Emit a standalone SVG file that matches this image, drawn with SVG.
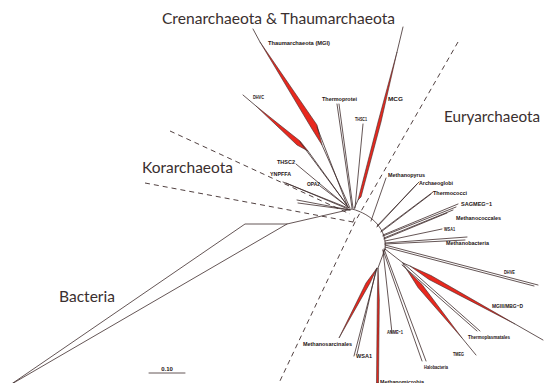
<svg xmlns="http://www.w3.org/2000/svg" width="544" height="383" viewBox="0 0 544 383">
<style>
.br{fill:none;stroke:#3d2b2b;stroke-width:0.8;stroke-linecap:round}
.red{fill:#e8281e;stroke:#3d2b2b;stroke-width:0.6;stroke-linejoin:round}
.dash{fill:none;stroke:#3d2b2b;stroke-width:0.9;stroke-dasharray:5 4}
.big{font-family:Lato,"Liberation Sans",sans-serif;font-size:16px;fill:#3a2f2f}
.sm{font-family:"Liberation Sans",Arial,sans-serif;font-size:6px;font-weight:bold;fill:#1e1414}
</style>
<rect width="544" height="383" fill="#ffffff"/>
<g id="connectors">
<g id="dashed-boundaries">
<polyline class="dash" points="458,42 356,220 279,383"/>
<line class="dash" x1="170" y1="131" x2="350" y2="214"/>
<line class="dash" x1="145" y1="183" x2="353" y2="222"/>
<line class="br" x1="353" y1="222" x2="354.5" y2="218"/>
</g>
<g id="backbone">
<path class="br" d="M352,209 C372,214 388,230 385,250"/>
<line class="br" x1="385" y1="249" x2="378" y2="268"/>
<line class="br" x1="385" y1="249" x2="403" y2="263"/>
</g>
<g id="bacteria-branch">
<polyline class="br" points="352,209 287,224 245,224 10,385 287,224"/>
</g>
</g>
<g id="cren-thaum">
<g id="Thaumarchaeota">
<line class="br" x1="253" y1="29" x2="260" y2="42"/>
<polygon class="red" points="260,42 317,125 322,145 312,129"/>
<line class="br" x1="322" y1="145" x2="350" y2="208"/>
<line class="br" x1="317" y1="127" x2="347" y2="205"/>
</g>
<g id="DHVC">
<line class="br" x1="243" y1="95" x2="256" y2="106"/>
<polygon class="red" points="256,106 300,141 308,151 297,145"/>
<line class="br" x1="308" y1="151" x2="349" y2="208"/>
<line class="br" x1="300" y1="142" x2="347" y2="205"/>
</g>
<g id="Thermoprotei">
<line class="br" x1="337" y1="104" x2="352" y2="208"/>
<line class="br" x1="339" y1="104" x2="353" y2="208"/>
</g>
<g id="THSC1">
<line class="br" x1="363" y1="124" x2="355" y2="208"/>
</g>
<g id="MCG">
<line class="br" x1="403" y1="27" x2="397" y2="52"/>
<polygon class="red" points="397,52 381,122 361,197 358,200 378,122"/>
<line class="br" x1="358" y1="200" x2="354" y2="209"/>
</g>
<g id="THSC2">
<line class="br" x1="296" y1="164" x2="349" y2="208"/>
</g>
<g id="YNPFFA">
<line class="br" x1="283" y1="182" x2="348" y2="208"/>
<line class="br" x1="286" y1="183" x2="348" y2="209"/>
</g>
<g id="OPA2">
<line class="br" x1="320" y1="186" x2="348" y2="207"/>
</g>
<g id="Korarchaeota-clade">
<line class="br" x1="297" y1="200" x2="350" y2="210"/>
<line class="br" x1="298" y1="203" x2="350" y2="210"/>
</g>
</g>
<g id="eury">
<g id="Methanopyrus"><line class="br" x1="386" y1="178" x2="371" y2="221"/></g>
<g id="Archaeoglobi">
<line class="br" x1="419" y1="182" x2="377" y2="226"/>
<line class="br" x1="417" y1="184" x2="377" y2="227"/>
</g>
<g id="Thermococci">
<line class="br" x1="433" y1="192" x2="381" y2="231"/>
<line class="br" x1="431" y1="194" x2="381" y2="232"/>
</g>
<g id="SAGMEG-1">
<line class="br" x1="458" y1="204" x2="383" y2="235"/>
<line class="br" x1="456" y1="207" x2="383" y2="236"/>
</g>
<g id="Methanococcales">
<line class="br" x1="453" y1="210" x2="384" y2="238"/>
<line class="br" x1="447" y1="213" x2="384" y2="239"/>
</g>
<g id="WSA1-a"><line class="br" x1="442" y1="229" x2="385" y2="241"/></g>
<g id="Methanobacteria">
<line class="br" x1="467" y1="237" x2="385" y2="243"/>
<line class="br" x1="465" y1="240" x2="385" y2="244"/>
</g>
<g id="DHVE">
<line class="br" x1="385" y1="245" x2="538" y2="285"/>
<line class="br" x1="385" y1="247" x2="534" y2="286"/>
</g>
<g id="MGIII-MBG-D">
<line class="br" x1="403" y1="263" x2="410" y2="266"/>
<polygon class="red" points="410,266 431,275.5 515,324 429,279.5"/>
<line class="br" x1="515" y1="324" x2="543" y2="340"/>
</g>
<g id="Thermoplasmatales">
<line class="br" x1="403" y1="263" x2="480" y2="331"/>
<line class="br" x1="402" y1="265" x2="477" y2="331"/>
</g>
<g id="TMEG">
<line class="br" x1="403" y1="264" x2="407" y2="270"/>
<polygon class="red" points="407,270 422,284.5 462,338 418,287.5"/>
<line class="br" x1="462" y1="338" x2="476" y2="355"/>
</g>
<g id="Halobacteria">
<line class="br" x1="384" y1="249" x2="426" y2="361"/>
<line class="br" x1="383" y1="250" x2="422" y2="361"/>
</g>
<g id="ANME-1"><line class="br" x1="383" y1="250" x2="392" y2="333"/></g>
<g id="Methanosarcinales">
<polygon class="red" points="377,268 370,283 339,338 366,283"/>
</g>
<g id="WSA1-b">
<line class="br" x1="377" y1="268" x2="354" y2="356"/>
<line class="br" x1="376" y1="270" x2="357" y2="354"/>
</g>
<g id="Methanomicrobia">
<polygon class="red" points="378,268 379.3,300 378.5,383 376.5,383 377.3,300"/>
</g>
</g>
<g id="scale">
<line class="br" x1="149" y1="373" x2="185" y2="373"/>
<text class="sm" x="167" y="371" text-anchor="middle">0.10</text>
</g>
<g id="labels">
<text class="big" x="162" y="24" textLength="233" lengthAdjust="spacingAndGlyphs">Crenarchaeota &amp; Thaumarchaeota</text>
<text class="big" x="444" y="122" textLength="96" lengthAdjust="spacingAndGlyphs">Euryarchaeota</text>
<text class="big" x="142" y="173" textLength="91" lengthAdjust="spacingAndGlyphs">Korarchaeota</text>
<text class="big" x="59" y="302" textLength="56" lengthAdjust="spacingAndGlyphs">Bacteria</text>
<text class="sm" x="268" y="45" textLength="62" lengthAdjust="spacingAndGlyphs">Thaumarchaeota (MGI)</text>
<text class="sm" x="253" y="99" textLength="11" lengthAdjust="spacingAndGlyphs">DHVC</text>
<text class="sm" x="322" y="101" textLength="35" lengthAdjust="spacingAndGlyphs">Thermoprotei</text>
<text class="sm" x="388" y="101" textLength="15" lengthAdjust="spacingAndGlyphs">MCG</text>
<text class="sm" x="355" y="121" textLength="12" lengthAdjust="spacingAndGlyphs">THSC1</text>
<text class="sm" x="277" y="164" textLength="18" lengthAdjust="spacingAndGlyphs">THSC2</text>
<text class="sm" x="270" y="176" textLength="21" lengthAdjust="spacingAndGlyphs">YNPFFA</text>
<text class="sm" x="307" y="186" textLength="13" lengthAdjust="spacingAndGlyphs">OPA2</text>
<text class="sm" x="388" y="177" textLength="37" lengthAdjust="spacingAndGlyphs">Methanopyrus</text>
<text class="sm" x="419" y="185" textLength="34" lengthAdjust="spacingAndGlyphs">Archaeoglobi</text>
<text class="sm" x="433" y="195" textLength="34" lengthAdjust="spacingAndGlyphs">Thermococci</text>
<text class="sm" x="461" y="206" textLength="31" lengthAdjust="spacingAndGlyphs">SAGMEG−1</text>
<text class="sm" x="456" y="220" textLength="45" lengthAdjust="spacingAndGlyphs">Methanococcales</text>
<text class="sm" x="444" y="231" textLength="11" lengthAdjust="spacingAndGlyphs">WSA1</text>
<text class="sm" x="446" y="245" textLength="43" lengthAdjust="spacingAndGlyphs">Methanobacteria</text>
<text class="sm" x="504" y="274" textLength="11" lengthAdjust="spacingAndGlyphs">DHVE</text>
<text class="sm" x="492" y="308" textLength="31" lengthAdjust="spacingAndGlyphs">MGIII/MBG−D</text>
<text class="sm" x="468" y="339" textLength="42" lengthAdjust="spacingAndGlyphs">Thermoplasmatales</text>
<text class="sm" x="453" y="356" textLength="11" lengthAdjust="spacingAndGlyphs">TMEG</text>
<text class="sm" x="424" y="369" textLength="24" lengthAdjust="spacingAndGlyphs">Halobacteria</text>
<text class="sm" x="387" y="334" textLength="16" lengthAdjust="spacingAndGlyphs">ANME−1</text>
<text class="sm" x="303" y="346" textLength="49" lengthAdjust="spacingAndGlyphs">Methanosarcinales</text>
<text class="sm" x="356" y="358" textLength="16" lengthAdjust="spacingAndGlyphs">WSA1</text>
<text class="sm" x="380" y="384" textLength="44" lengthAdjust="spacingAndGlyphs">Methanomicrobia</text>
</g>
</svg>
